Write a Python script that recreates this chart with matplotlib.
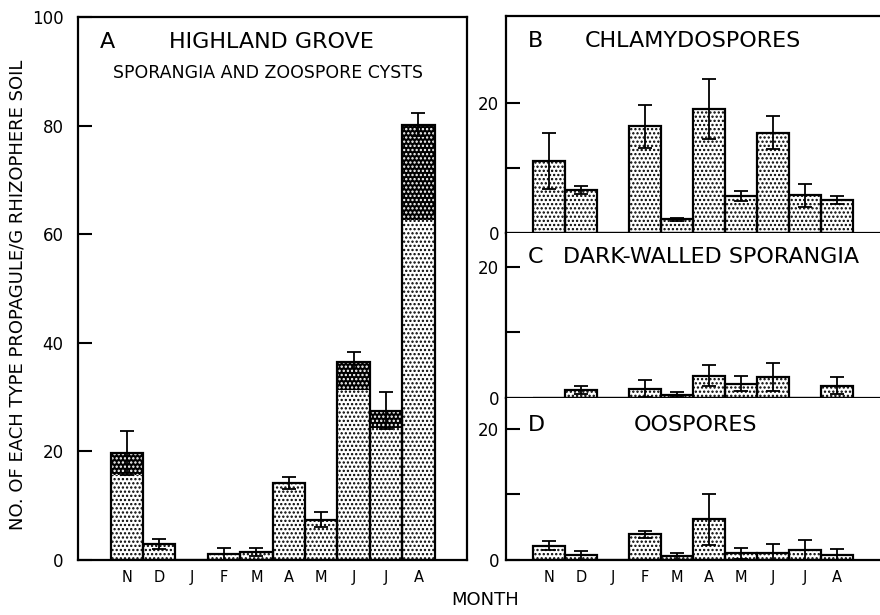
import matplotlib.pyplot as plt
import numpy as np

plt.rcParams['font.family'] = ['DejaVu Sans']
plt.rcParams['hatch.linewidth'] = 1.1

months = ['N', 'D', 'J', 'F', 'M', 'A', 'M', 'J', 'J', 'A']
pos = np.arange(1, 11)

# A: sporangia (stippled) + zoospore cysts (dark, stacked)
a_light = [15.7, 3.0, 0, 1.1, 1.5, 14.1, 7.4, 31.4, 24.3, 62.7]
a_total = [19.7, 3.0, 0, 1.1, 1.5, 14.1, 7.4, 36.4, 27.5, 80.2]
a_err = [4.1, 0.9, 0, 1.1, 0.8, 1.1, 1.4, 1.9, 3.4, 2.1]

# B: chlamydospores
b_vals = [11.0, 6.6, 0, 16.4, 2.1, 19.0, 5.7, 15.4, 5.8, 5.1]
b_err = [4.3, 0.6, 0, 3.3, 0.2, 4.6, 0.8, 2.5, 1.8, 0.6]

# C: dark-walled sporangia
c_vals = [0, 1.2, 0, 1.4, 0.5, 3.4, 2.2, 3.2, 0, 1.9]
c_err = [0, 0.6, 0, 1.3, 0.4, 1.6, 1.1, 2.2, 0, 1.3]

# D: oospores
d_vals = [2.2, 0.7, 0, 3.9, 0.55, 6.2, 1.0, 1.07, 1.5, 0.8]
d_err = [0.7, 0.7, 0, 0.6, 0.55, 3.9, 0.9, 1.3, 1.5, 0.9]

fig = plt.figure(figsize=(8.8, 6.15), dpi=100)
axA = fig.add_axes([0.0881, 0.0894, 0.4426, 0.8829])
axB = fig.add_axes([0.575, 0.6211, 0.425, 0.3528])
axC = fig.add_axes([0.575, 0.3528, 0.425, 0.2683])
axD = fig.add_axes([0.575, 0.0894, 0.425, 0.2634])


def stipple(ax, bottom, height, dark=False):
    if dark:
        ax.bar(pos, height, bottom=bottom, width=1.0, color='black',
               edgecolor='white', hatch='....', linewidth=0, zorder=2)
    else:
        ax.bar(pos, height, bottom=bottom, width=1.0, color='white',
               edgecolor='black', hatch='....', linewidth=0, zorder=2)


def errbars(ax, vals, err):
    v = np.array(vals)
    e = np.array(err)
    m = e > 0
    ax.errorbar(pos[m], v[m], yerr=e[m], fmt='none', ecolor='black',
                elinewidth=1.3, capsize=5, capthick=1.3, zorder=4)


# panel A
light = np.array(a_light)
total = np.array(a_total)
stipple(axA, 0, light)
stipple(axA, light, total - light, dark=True)
axA.bar(pos, total, width=1.0, fill=False, edgecolor='black', linewidth=1.6, zorder=3)
errbars(axA, a_total, a_err)
axA.set_xlim(-0.52, 11.5)
axA.set_ylim(0, 100)
axA.set_yticks([0, 20, 40, 60, 80, 100])
axA.set_xticks(pos)
axA.set_xticklabels(months, fontsize=10.5)
axA.tick_params(axis='x', length=0, pad=7)
axA.tick_params(axis='y', direction='in', length=10, width=1.5, labelsize=12, pad=10)
for s in axA.spines.values():
    s.set_linewidth(1.6)
axA.text(0.058, 0.943, 'A', transform=axA.transAxes, fontsize=16)
axA.text(0.497, 0.943, 'HIGHLAND GROVE', transform=axA.transAxes, fontsize=16, ha='center')
axA.text(0.488, 0.888, 'SPORANGIA AND ZOOSPORE CYSTS', transform=axA.transAxes,
         fontsize=12.5, ha='center')

# panels B, C, D
right = [(axB, b_vals, b_err, 33.3, 'B', 'CHLAMYDOSPORES', 0.5, 0.859),
         (axC, c_vals, c_err, 25.1, 'C', 'DARK-WALLED SPORANGIA', 0.548, 0.816),
         (axD, d_vals, d_err, 24.7, 'D', 'OOSPORES', 0.508, 0.798)]
for ax, vals, err, top, letter, title, tx, ty in right:
    stipple(ax, 0, vals)
    ax.bar(pos, vals, width=1.0, fill=False, edgecolor='black', linewidth=1.6, zorder=3)
    errbars(ax, vals, err)
    ax.set_xlim(-0.34, 11.34)
    ax.set_ylim(0, top)
    ax.set_yticks([0, 10, 20])
    ax.set_yticklabels(['0', '', '20'])
    ax.tick_params(axis='y', direction='in', length=10, width=1.5, labelsize=12, pad=5)
    ax.spines['right'].set_visible(False)
    for s in ax.spines.values():
        s.set_linewidth(1.6)
    if ax is not axB:
        ax.spines['top'].set_visible(False)
    ax.text(0.059, ty, letter, transform=ax.transAxes, fontsize=16)
    ax.text(tx, ty, title, transform=ax.transAxes, fontsize=16, ha='center')
    ax.set_xticks(pos)
    if ax is axD:
        ax.set_xticklabels(months, fontsize=10.5)
        ax.tick_params(axis='x', length=0, pad=7)
    else:
        ax.tick_params(axis='x', length=0, labelbottom=False)

fig.text(0.02, 0.52, 'NO. OF EACH TYPE PROPAGULE/G RHIZOPHERE SOIL', rotation=90,
         fontsize=13, ha='center', va='center')
fig.text(0.551, 0.016, 'MONTH', fontsize=13, ha='center', va='baseline')

fig.savefig('out.png', dpi=100)
